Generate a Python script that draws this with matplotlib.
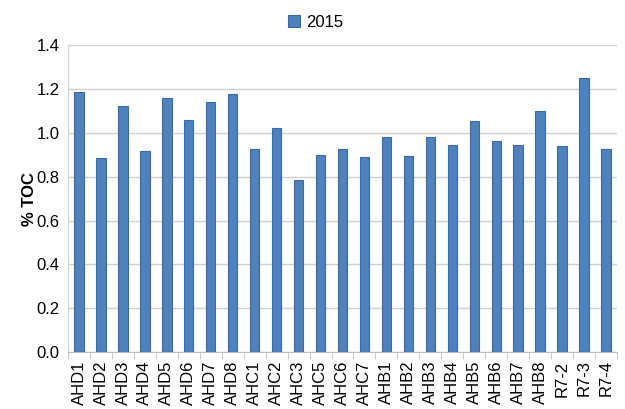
import matplotlib
matplotlib.use("Agg")
import matplotlib.pyplot as plt
import numpy as np

plt.rcParams["font.family"] = ["Liberation Sans", "DejaVu Sans"]

sites = ["AHD1", "AHD2", "AHD3", "AHD4", "AHD5", "AHD6", "AHD7", "AHD8",
         "AHC1", "AHC2", "AHC3", "AHC5", "AHC6", "AHC7",
         "AHB1", "AHB2", "AHB3", "AHB4", "AHB5", "AHB6", "AHB7", "AHB8",
         "R7-2", "R7-3", "R7-4"]
toc_2015 = [1.184, 0.883, 1.123, 0.915, 1.160, 1.058, 1.139, 1.175,
            0.924, 1.020, 0.784, 0.898, 0.924, 0.889,
            0.979, 0.895, 0.979, 0.945, 1.055, 0.963, 0.945, 1.099,
            0.939, 1.248, 0.924]
yticks = [0.0, 0.2, 0.4, 0.6, 0.8, 1.0, 1.2, 1.4]

fig = plt.figure(figsize=(6.25, 4.09), dpi=100)
ax = fig.add_axes([0.109, 0.139, 0.878, 0.751])

x = np.arange(len(sites))
ax.bar(x, toc_2015, width=0.42, color="#4F81BD", edgecolor="#3C6A9E",
       linewidth=0.8, label="2015", zorder=3)

ax.set_xlim(-0.5, len(sites) - 0.5)
ax.set_ylim(0, 1.4)
ax.set_yticks(yticks)
ax.set_yticklabels([f"{v:.1f}" for v in yticks], fontsize=12)
ax.yaxis.grid(True, color="#D0D0D0", linewidth=1, zorder=0)
ax.set_axisbelow(True)

ax.set_xticks(x)
ax.set_xticklabels(sites, rotation=90, fontsize=12)
ax.tick_params(axis="x", length=0, pad=6)
ax.tick_params(axis="y", length=0, pad=6)
ax.set_xticks(np.arange(-0.5, len(sites), 1.0), minor=True)
ax.tick_params(axis="x", which="minor", length=5, color="#BFBFBF", direction="out")

for side in ["top", "right"]:
    ax.spines[side].set_visible(False)
ax.spines["left"].set_color("#D0D0D0")
ax.spines["bottom"].set_color("#BFBFBF")

ax.set_ylabel("% TOC", fontsize=12, fontweight="bold")
ax.yaxis.set_label_coords(-0.056, 0.5)

fig.legend(loc="upper center", bbox_to_anchor=(0.505, 1.0), frameon=False,
           fontsize=12, handlelength=0.7, handleheight=0.7, handletextpad=0.4)

fig.savefig("out.png", dpi=100)
